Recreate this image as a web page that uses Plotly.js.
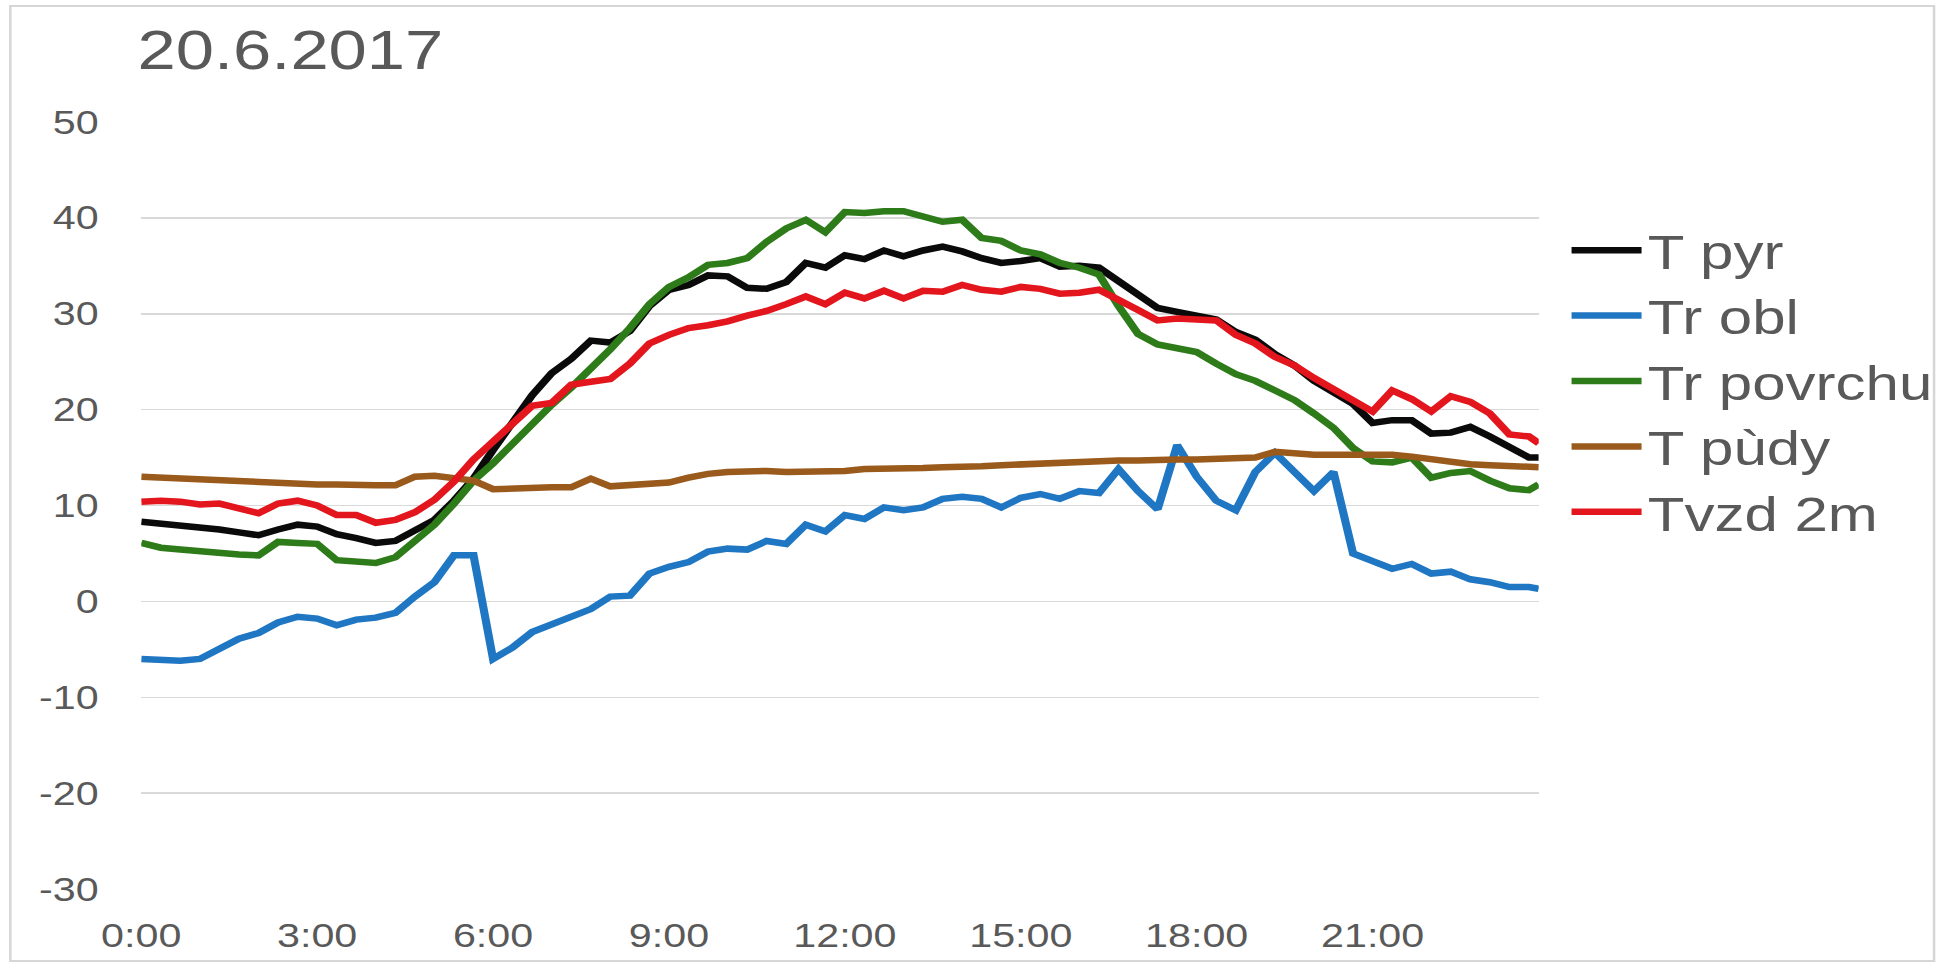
<!DOCTYPE html>
<html>
<head>
<meta charset="utf-8">
<script src="https://cdn.plot.ly/plotly-3.0.1.min.js"></script>
<style>
  html, body { margin: 0; padding: 0; background: #ffffff; overflow: hidden; }
  #wrap { position: absolute; left: 0; top: 0; width: 1563px; height: 962px; transform: scaleX(1.25); transform-origin: 0 0; }
  #chart { width: 1563px; height: 962px; }
</style>
</head>
<body>
<div id="wrap"><div id="chart"></div></div>
<script>
// time of day in minutes (20-minute samples)
const minutes = [0,20,40,60,80,100,120,140,160,180,200,220,240,260,280,300,320,340,360,380,400,420,440,460,
  480,500,520,540,560,580,600,620,640,660,680,700,720,740,760,780,800,820,840,860,880,900,920,940,
  960,980,1000,1020,1040,1060,1080,1100,1120,1140,1160,1180,1200,1220,1240,1260,1280,1300,1320,1340,1360,1380,1400,1420,1430];

const tickMinutes = [0,180,360,540,720,900,1080,1260];
const tickLabels = ["0:00","3:00","6:00","9:00","12:00","15:00","18:00","21:00"];

const yTickValues = [-30,-20,-10,0,10,20,30,40,50];
const yTickLabels = ["-30","-20","-10","0","10","20","30","40","50"];

const seriesNames = ["T pyr","Tr obl","Tr povrchu","T pùdy","Tvzd 2m"];

const tPyr = [8.3,8.1,7.9,7.8,7.5,7.2,6.9,7.5,8.0,7.8,7.0,6.6,6.1,6.3,7.5,8.5,10.5,12.8,15.8,18.8,21.5,23.8,25.3,27.2,
  27.0,28.2,30.8,32.5,33.0,34.0,33.9,32.7,32.6,33.3,35.3,34.8,36.1,35.7,36.6,36.0,36.6,37.0,36.5,35.8,35.3,35.5,35.8,34.9,
  35.0,34.8,33.4,32.1,30.6,30.2,29.8,29.4,28.1,27.3,25.8,24.6,23.0,21.8,20.6,18.6,18.9,18.9,17.5,17.6,18.2,17.2,16.0,15.0,15.0];

const trObl = [-6.0,-6.1,-6.2,-6.0,-5.0,-3.9,-3.3,-2.2,-1.6,-1.8,-2.5,-1.9,-1.7,-1.2,0.5,2.0,4.8,4.8,-6.0,-4.8,-3.2,-2.4,-1.6,-0.8,
  0.5,0.6,2.9,3.6,4.1,5.2,5.5,5.4,6.3,6.0,8.0,7.3,9.0,8.6,9.8,9.5,9.8,10.7,10.9,10.7,9.8,10.8,11.2,10.7,
  11.5,11.3,13.8,11.5,9.6,16.3,13.0,10.5,9.5,13.5,15.5,13.5,11.5,13.5,5.0,4.2,3.4,3.9,2.9,3.1,2.3,2.0,1.5,1.5,1.3];

const trPovrchu = [6.1,5.6,5.4,5.2,5.0,4.9,4.8,6.2,6.1,6.0,4.3,4.1,4.0,4.6,6.2,8.0,10.2,12.6,14.4,16.5,18.6,20.5,22.3,24.2,
  26.3,28.5,31.0,32.8,33.8,35.1,35.3,35.8,37.5,38.9,39.8,38.5,40.6,40.5,40.7,40.7,40.2,39.6,39.8,37.9,37.6,36.6,36.2,35.3,
  34.8,34.1,30.8,27.9,26.8,26.4,26.0,24.8,23.7,23.0,22.0,21.0,19.6,18.1,16.0,14.6,14.5,15.0,12.9,13.4,13.6,12.6,11.8,11.6,12.2];

const tPudy = [13.0,12.9,12.8,12.7,12.6,12.5,12.4,12.4,12.3,12.2,12.2,12.1,12.1,12.1,13.0,13.1,12.9,12.6,11.7,11.8,11.8,11.9,11.9,12.8,
  12.0,12.1,12.2,12.4,12.9,13.3,13.5,13.6,13.6,13.5,13.5,13.6,13.6,13.8,13.8,13.8,13.9,14.0,14.0,14.1,14.2,14.3,14.4,14.5,
  14.5,14.6,14.7,14.7,14.8,14.8,14.8,14.9,14.9,15.0,15.6,15.4,15.3,15.3,15.3,15.3,15.3,15.1,14.8,14.6,14.3,14.2,14.1,14.0,14.0];

const tvzd2m = [10.4,10.5,10.4,10.1,10.2,9.7,9.2,10.2,10.5,10.0,9.0,9.0,8.2,8.5,9.3,10.6,12.5,14.8,16.6,18.6,20.4,20.7,22.6,22.9,
  23.2,24.8,26.9,27.8,28.5,28.8,29.2,29.8,30.3,31.0,31.8,31.0,32.2,31.6,32.4,31.6,32.4,32.3,33.0,32.5,32.3,32.8,32.6,32.1,
  32.2,32.5,31.5,30.4,29.3,29.5,29.4,29.3,27.8,26.9,25.5,24.6,23.3,22.2,21.0,19.8,22.0,21.1,19.8,21.4,20.8,19.6,17.4,17.2,16.5];

const seriesValues = [tPyr, trObl, trPovrchu, tPudy, tvzd2m];
const seriesColors = ["#0a0a0a","#1f76c2","#2e7b1a","#9a5a1c","#e3161d"];

const FONT = "Liberation Sans, Arial, Helvetica, sans-serif";
const GREY = "#595959";

const traces = seriesNames.map((name, i) => ({
  type: "scatter",
  mode: "lines",
  name: name,
  x: minutes,
  y: seriesValues[i],
  line: { color: seriesColors[i], width: 6.5 }
}));

const layout = {
  width: 1563,
  height: 962,
  paper_bgcolor: "#ffffff",
  plot_bgcolor: "#ffffff",
  margin: { l: 113, r: 324, t: 122, b: 73 },
  font: { family: FONT, color: GREY },
  title: {
    text: "20.6.2017",
    font: { family: FONT, size: 55, color: GREY },
    xref: "container", x: 110 / 1563, xanchor: "left",
    yref: "container", y: 1 - 31 / 962, yanchor: "top"
  },
  showlegend: true,
  legend: {
    x: 1.019, xanchor: "left",
    y: 0.882, yanchor: "top",
    font: { family: FONT, size: 48, color: GREY },
    bgcolor: "rgba(0,0,0,0)",
    itemwidth: 56
  },
  xaxis: {
    type: "linear",
    range: [0, 1430],
    tickmode: "array",
    tickvals: tickMinutes,
    ticktext: tickLabels,
    showgrid: false,
    zeroline: false,
    showline: false,
    ticks: "",
    ticklabelstandoff: 24,
    tickfont: { family: FONT, size: 33, color: GREY }
  },
  yaxis: {
    range: [-30, 50],
    tickmode: "array",
    tickvals: yTickValues,
    ticktext: yTickLabels,
    showgrid: true,
    gridcolor: "#d9d9d9",
    gridwidth: 1.5,
    zeroline: false,
    showline: false,
    ticks: "",
    ticklabelstandoff: 33,
    tickfont: { family: FONT, size: 33, color: GREY }
  },
  shapes: [{
    type: "rect", xref: "paper", yref: "paper",
    x0: (7.5 - 113) / 1126, x1: (1557.5 - 113) / 1126,
    y0: (889 - 961) / 767, y1: (889 - 6) / 767,
    line: { color: "#d6d6d6", width: 2 },
    fillcolor: "rgba(0,0,0,0)",
    layer: "below"
  }]
};

Plotly.newPlot("chart", traces, layout, { displayModeBar: false, staticPlot: true });
</script>
</body>
</html>
